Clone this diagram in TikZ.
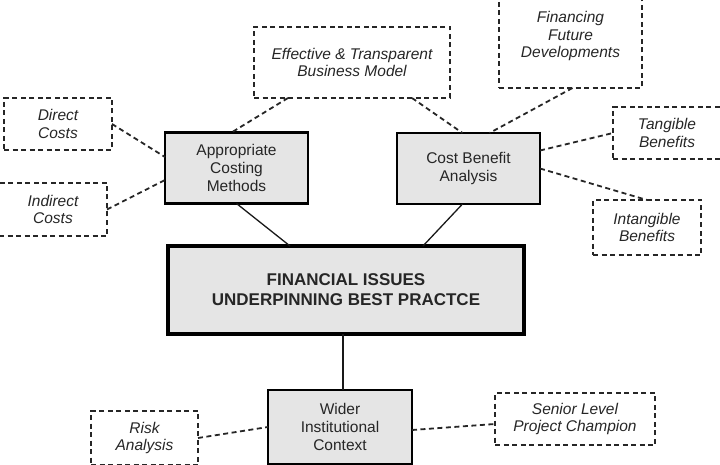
\documentclass[tikz,border=0pt]{standalone}
\usepackage{fontspec}
\setmainfont{Liberation Sans}
\usepackage{tikz}
\usepackage{xcolor}
\definecolor{boxgrey}{gray}{0.9}
\definecolor{inkgrey}{gray}{0.15}
\tikzstyle{issue} = [rectangle, minimum width=356pt, minimum height=88pt, text centered, align=center, draw=black, line width=4pt, fill=boxgrey, text=inkgrey, font=\fontsize{17}{20}\selectfont\bfseries]
\tikzstyle{area} = [rectangle, minimum width=143pt, minimum height=71pt, text centered, align=center, draw=black, line width=2.6pt, fill=boxgrey, text=inkgrey, font=\fontsize{15.5}{18}\selectfont]
\tikzstyle{factor} = [rectangle, minimum width=108pt, minimum height=52pt, text centered, align=center, draw=black!85, line width=1.8pt, dash pattern=on 5pt off 3.5pt, text=inkgrey, font=\fontsize{15.5}{17.5}\selectfont\itshape]
\tikzstyle{link} = [line width=1.3pt, black!90]
\tikzstyle{dashlink} = [line width=1.8pt, black!85, dash pattern=on 5pt off 3.5pt]

\begin{document}
\begin{tikzpicture}[x=1pt, y=-1pt, outer sep=0pt]
			\useasboundingbox (0, 0) rectangle (720, 465);
			
			\node(main) at (346, 290) [issue] {FINANCIAL ISSUES\\UNDERPINNING BEST PRACTCE};
			\node(app) at (236.5, 168) [area] {Appropriate\\Costing\\Methods};
			\node(cba) at (468.5, 168.5) [area] {Cost Benefit\\Analysis};
			\node(wider) at (340, 427) [area, minimum width=144pt, minimum height=74pt] {Wider\\Institutional\\Context};
			\node(direct) at (58, 124) [factor] {Direct\\Costs};
			\node(indirect) at (53, 209.5) [factor, minimum height=53pt] {Indirect\\Costs};
			\node(model) at (352, 62.5) [factor, minimum width=196pt, minimum height=71pt] {Effective \& Transparent\\Business Model};
			\node(future) at (570.5, 36) [factor, minimum width=143pt, minimum height=104pt] {Financing\\Future\\Developments};
			\node(tangible) at (667, 133) [factor] {Tangible\\Benefits};
			\node(intangible) at (647, 227.5) [factor, minimum height=55pt] {Intangible\\Benefits};
			\node(risk) at (144.5, 438) [factor, minimum width=107pt, minimum height=54pt] {Risk\\Analysis};
			\node(champion) at (575, 419) [factor, minimum width=160pt] {Senior Level\\Project Champion};
			\draw [dashlink] (direct.east) -- ([yshift=11]app.west);
			\draw [dashlink] (indirect.east) -- ([yshift=-12]app.west);
			\draw [dashlink] ([xshift=-64]model.south) -- ([xshift=-5]app.north);
			\draw [dashlink] ([xshift=60]model.south) -- ([xshift=-6]cba.north);
			\draw [dashlink] ([xshift=2]future.south) -- ([xshift=21]cba.north);
			\draw [dashlink] ([yshift=18]cba.east) -- (tangible.west);
			\draw [dashlink] (cba.east) -- (intangible.north);
			\draw [link] (app.south) -- ([xshift=-56]main.north);
			\draw [link] ([xshift=-6]cba.south) -- ([xshift=77]main.north);
			\draw [link] ([xshift=-3]main.south) -- ([xshift=3]wider.north);
			\draw [dashlink] (risk.east) -- (wider.west);
			\draw [dashlink] ([yshift=-3]wider.east) -- ([yshift=-5]champion.west);
		\end{tikzpicture}
\end{document}
